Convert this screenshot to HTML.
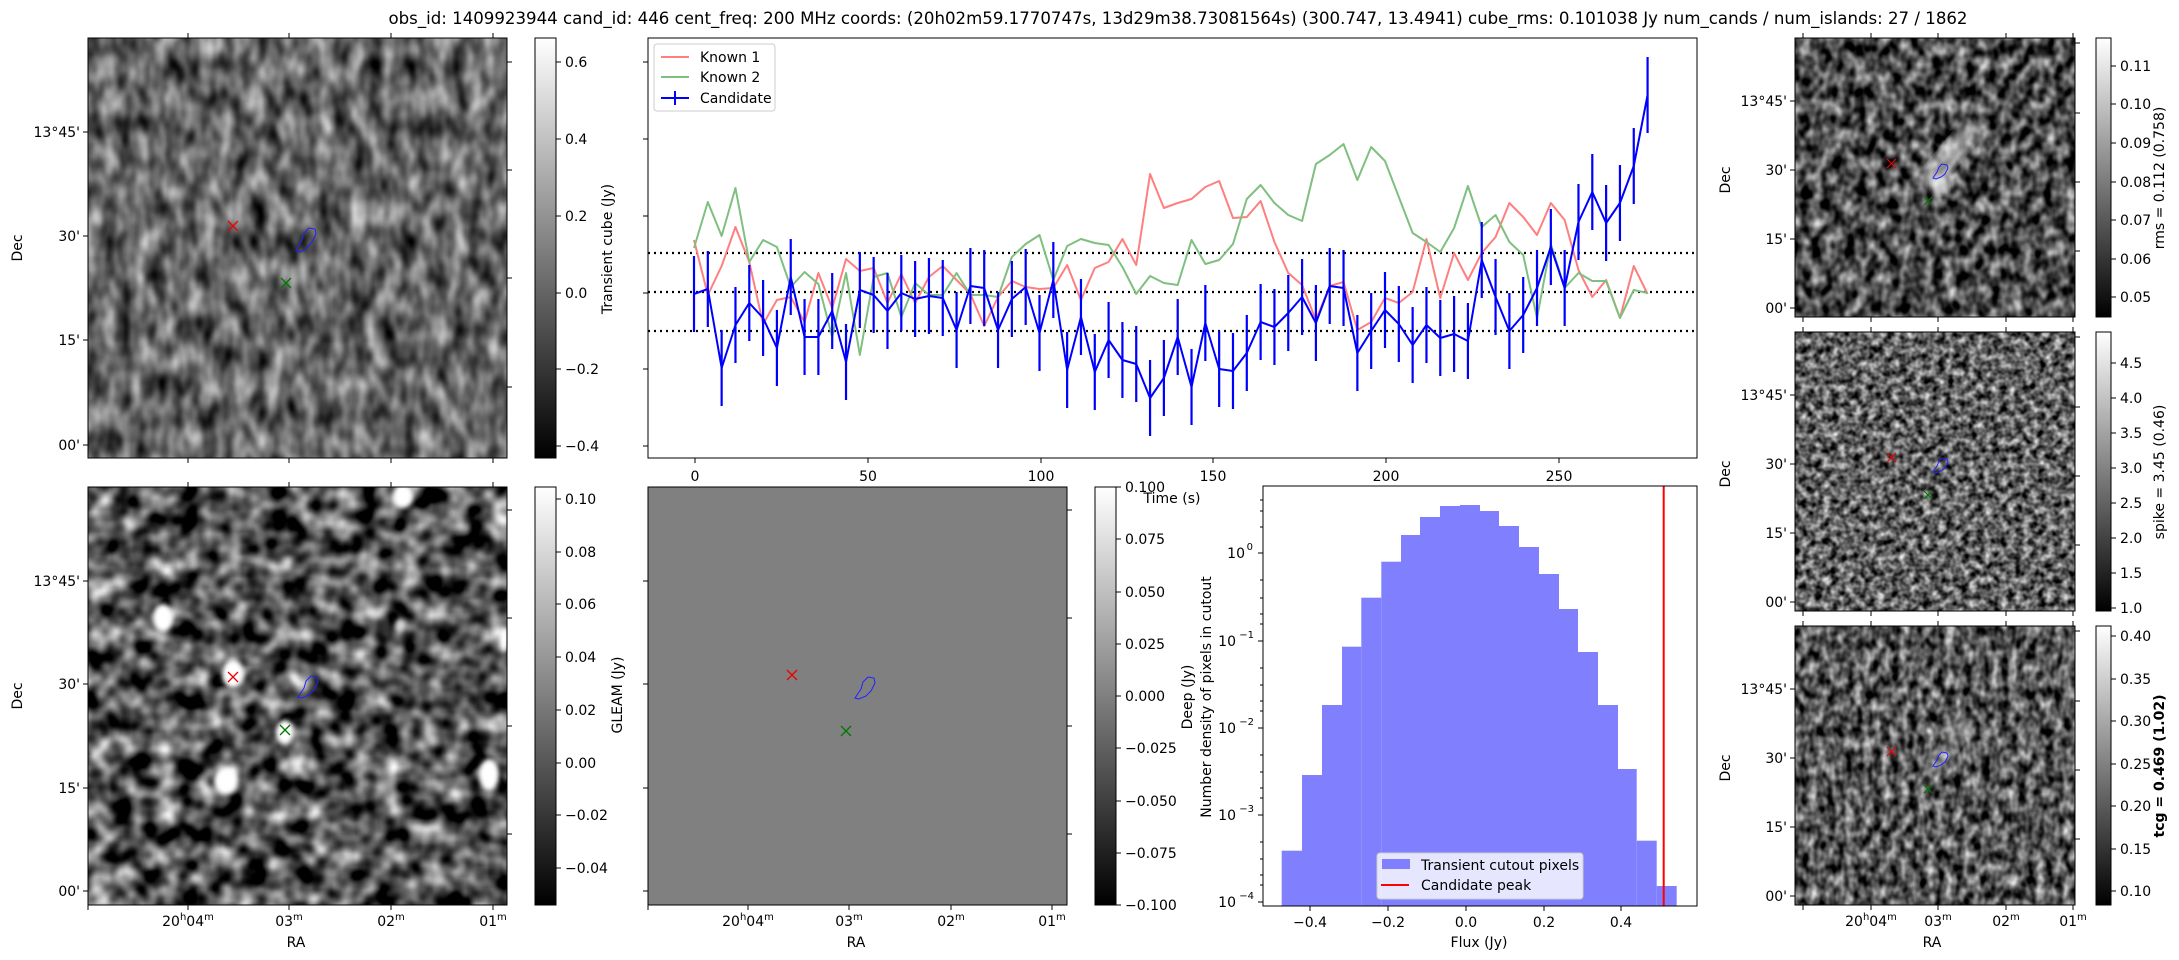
<!DOCTYPE html>
<html><head><meta charset="utf-8"><style>
html,body{margin:0;padding:0;background:#fff;}
svg{display:block;font-family:"DejaVu Sans","Liberation Sans",sans-serif;}
text{fill:#000;}
</style></head><body>
<svg width="2179" height="960" viewBox="0 0 2179 960" xmlns="http://www.w3.org/2000/svg">
<defs>
<linearGradient id="cb" x1="0" y1="1" x2="0" y2="0"><stop offset="0" stop-color="#000"/><stop offset="1" stop-color="#fff"/></linearGradient>
<filter id="ftl" color-interpolation-filters="sRGB" filterUnits="userSpaceOnUse" x="88" y="38" width="419" height="420">
<feTurbulence type="fractalNoise" baseFrequency="0.06 0.035" numOctaves="2" seed="3"/>
<feColorMatrix type="matrix" values="1.1 0 0 0 -0.15  1.1 0 0 0 -0.15  1.1 0 0 0 -0.15  0 0 0 0 1"/></filter>
<filter id="fbl" color-interpolation-filters="sRGB" filterUnits="userSpaceOnUse" x="88" y="487" width="419" height="418">
<feTurbulence type="fractalNoise" baseFrequency="0.045" numOctaves="2" seed="11"/>
<feColorMatrix type="matrix" values="1.7 0 0 0 -0.52  1.7 0 0 0 -0.52  1.7 0 0 0 -0.52  0 0 0 0 1"/></filter>
<filter id="fr1" color-interpolation-filters="sRGB" filterUnits="userSpaceOnUse" x="1795" y="38" width="280" height="279">
<feTurbulence type="fractalNoise" baseFrequency="0.09 0.07" numOctaves="2" seed="5"/>
<feColorMatrix type="matrix" values="1.4 0 0 0 -0.4  1.4 0 0 0 -0.4  1.4 0 0 0 -0.4  0 0 0 0 1"/></filter>
<filter id="fr2" color-interpolation-filters="sRGB" filterUnits="userSpaceOnUse" x="1795" y="332" width="280" height="279">
<feTurbulence type="fractalNoise" baseFrequency="0.13" numOctaves="2" seed="8"/>
<feColorMatrix type="matrix" values="1.4 0 0 0 -0.32  1.4 0 0 0 -0.32  1.4 0 0 0 -0.32  0 0 0 0 1"/></filter>
<filter id="fr3" color-interpolation-filters="sRGB" filterUnits="userSpaceOnUse" x="1795" y="626" width="280" height="279">
<feTurbulence type="fractalNoise" baseFrequency="0.11 0.08" numOctaves="2" seed="13"/>
<feColorMatrix type="matrix" values="1.4 0 0 0 -0.36  1.4 0 0 0 -0.36  1.4 0 0 0 -0.36  0 0 0 0 1"/></filter>
<filter id="blur4"><feGaussianBlur stdDeviation="4"/></filter>
<filter id="blur2"><feGaussianBlur stdDeviation="2.5"/></filter>
<clipPath id="cbl"><rect x="88" y="487" width="419" height="418"/></clipPath>
<clipPath id="cr1"><rect x="1795" y="38" width="280" height="279"/></clipPath>
<clipPath id="cr3"><rect x="1795" y="626" width="280" height="279"/></clipPath>
</defs>

<text x="1178" y="24" font-size="16.7" text-anchor="middle" textLength="1579" lengthAdjust="spacingAndGlyphs">obs_id: 1409923944 cand_id: 446 cent_freq: 200 MHz coords: (20h02m59.1770747s, 13d29m38.73081564s) (300.747, 13.4941) cube_rms: 0.101038 Jy num_cands / num_islands: 27 / 1862</text>

<!-- Top-left image -->
<rect x="88" y="38" width="419" height="420" filter="url(#ftl)"/>
<rect x="88" y="38" width="419" height="420" fill="none" stroke="#000" stroke-width="1"/>
<g stroke="#000" stroke-width="1">
<path d="M88 132h-5M88 236h-5M88 340h-5M88 445h-5"/>
<path d="M507 62h5M507 170h5M507 278h5M507 387h5"/>
<path d="M188 38v-5M289 38v-5M391 38v-5M493 38v-5M188 458v5M289 458v5M391 458v5M493 458v5"/>
</g>
<g font-size="14" text-anchor="end">
<text x="80" y="137">13°45'</text><text x="80" y="241">30'</text><text x="80" y="345">15'</text><text x="80" y="450">00'</text>
</g>
<text transform="translate(22,248) rotate(-90)" font-size="14" text-anchor="middle">Dec</text>
<path d="M228 221l10 10M238 221l-10 10" stroke="#e00" stroke-width="1.3"/>
<path d="M281 278l10 10M291 278l-10 10" stroke="#070" stroke-width="1.3"/>
<path d="M296 250l6-10 2-7 5-5 6 1 1 5-4 8-5 6-7 4z" fill="none" stroke="#22f" stroke-width="1"/>

<rect x="535" y="38" width="21" height="420" fill="url(#cb)" stroke="#000" stroke-width="1"/>
<g stroke="#000"><path d="M556 62h5M556 139h5M556 216h5M556 293h5M556 369h5M556 446h5"/></g>
<g font-size="14"><text x="565" y="67">0.6</text><text x="565" y="144">0.4</text><text x="565" y="221">0.2</text><text x="565" y="298">0.0</text><text x="565" y="374">−0.2</text><text x="565" y="451">−0.4</text></g>
<text transform="translate(612,249) rotate(-90)" font-size="14" text-anchor="middle">Transient cube (Jy)</text>

<!-- Lightcurve -->
<rect x="648" y="38" width="1049" height="420" fill="#fff" stroke="#000" stroke-width="1"/>
<g stroke="#000"><path d="M648 62h-5M648 139h-5M648 216h-5M648 293h-5M648 369h-5M648 446h-5"/>
<path d="M695 458v5M868 458v5M1041 458v5M1213 458v5M1386 458v5M1559 458v5"/></g>
<g font-size="14" text-anchor="middle"><text x="695" y="481">0</text><text x="868" y="481">50</text><text x="1041" y="481">100</text><text x="1213" y="481">150</text><text x="1386" y="481">200</text><text x="1559" y="481">250</text></g>
<text x="1172" y="503" font-size="14" text-anchor="middle">Time (s)</text>
<g stroke="#000" stroke-width="2.2" stroke-dasharray="2,4"><path d="M648 253H1697M648 292H1697M648 331H1697"/></g>
<g transform="translate(694,0) scale(13.82,1)" fill="none">
<polyline vector-effect="non-scaling-stroke" stroke="#ff7f7f" stroke-width="2" stroke-linejoin="round" points="0,240 1,295 2,266 3,227 4,262 5,324 6,300 7,297 8,322 9,273 10,308 11,259 12,271 13,268 14,303 15,274 16,303 17,277 18,266 19,280 20,294 21,326 22,297 23,281 24,287 25,289 26,288 27,265 28,300 29,268 30,262 31,239 32,265 33,174 34,208 35,203 36,199 37,187 38,181 39,218 40,217 41,201 42,242 43,273 44,285 45,320 46,286 47,282 48,330 49,322 50,298 51,303 52,292 53,239 54,298 55,253 56,280 57,253 58,237 59,203 60,217 61,235 62,203 63,220 64,270 65,297 66,280 67,318 68,266 69,294"/>
<polyline vector-effect="non-scaling-stroke" stroke="#7fbf7f" stroke-width="2" stroke-linejoin="round" points="0,248 1,202 2,236 3,188 4,262 5,240 6,247 7,287 8,272 9,284 10,337 11,273 12,355 13,277 14,273 15,317 16,283 17,295 18,295 19,273 20,295 21,295 22,297 23,257 24,244 25,235 26,280 27,246 28,239 29,243 30,245 31,267 32,294 33,276 34,283 35,285 36,240 37,264 38,260 39,244 40,199 41,185 42,203 43,215 44,221 45,164 46,155 47,144 48,180 49,147 50,161 51,197 52,233 53,242 54,252 55,228 56,186 57,227 58,215 59,242 60,255 61,318 62,244 63,288 64,273 65,281 66,281 67,318 68,290 69,293"/>
<path vector-effect="non-scaling-stroke" stroke="#0000ff" stroke-width="2.2" d="M0 256V332M1 251V327M2 330V406M3 287V363M4 265V341M5 280V356M6 310V386M7 239V315M8 299V375M9 299V375M10 273V349M11 324V400M12 252V328M13 257V333M14 273V349M15 255V331M16 261V337M17 258V334M18 260V336M19 292V368M20 248V324M21 250V326M22 292V368M23 261V337M24 249V325M25 295V371M26 242V318M27 332V408M28 279V355M29 334V410M30 302V378M31 322V398M32 326V402M33 360V436M34 340V416M35 299V375M36 349V425M37 285V361M38 331V407M39 333V409M40 315V391M41 284V360M42 289V365M43 275V351M44 259V335M45 285V361M46 248V324M47 250V326M48 315V391M49 293V369M50 272V348M51 286V362M52 307V383M53 287V363M54 300V376M55 296V372M56 303V379M57 222V298M58 259V335M59 293V369M60 277V353M61 250V326M62 209V285M63 250V326M64 184V260M65 154V230M66 185V261M67 165V241M68 128V204M69 57V133"/>
<polyline vector-effect="non-scaling-stroke" stroke="#0000ff" stroke-width="2" stroke-linejoin="round" points="0,294 1,289 2,368 3,325 4,303 5,318 6,348 7,277 8,337 9,337 10,311 11,362 12,290 13,295 14,311 15,293 16,299 17,296 18,298 19,330 20,286 21,288 22,330 23,299 24,287 25,333 26,280 27,370 28,317 29,372 30,340 31,360 32,364 33,398 34,378 35,337 36,387 37,323 38,369 39,371 40,353 41,322 42,327 43,313 44,297 45,323 46,286 47,288 48,353 49,331 50,310 51,324 52,345 53,325 54,338 55,334 56,341 57,260 58,297 59,331 60,315 61,288 62,247 63,288 64,222 65,192 66,223 67,203 68,166 69,95"/>
</g>
<rect x="654" y="44" width="121" height="67" rx="3" fill="#fff" fill-opacity="0.8" stroke="#ccc" stroke-width="1"/>
<path d="M661 57h28" stroke="#ff7f7f" stroke-width="2"/>
<path d="M661 77h28" stroke="#7fbf7f" stroke-width="2"/>
<path d="M661 98h28M675 91v14" stroke="#0000ff" stroke-width="2"/>
<g font-size="14"><text x="700" y="62">Known 1</text><text x="700" y="82">Known 2</text><text x="700" y="103">Candidate</text></g>

<!-- Bottom-left image -->
<rect x="88" y="487" width="419" height="418" filter="url(#fbl)"/>
<g clip-path="url(#cbl)" fill="#fff" filter="url(#blur2)">
<ellipse cx="163" cy="618" rx="10" ry="14"/><ellipse cx="233" cy="674" rx="11" ry="14"/><ellipse cx="285" cy="732" rx="9" ry="12"/>
<ellipse cx="403" cy="496" rx="10" ry="12"/><ellipse cx="489" cy="775" rx="10" ry="16"/><ellipse cx="226" cy="781" rx="12" ry="14"/>
<ellipse cx="400" cy="626" rx="5" ry="7" opacity="0.7"/><ellipse cx="504" cy="640" rx="5" ry="12"/>
</g>
<rect x="88" y="487" width="419" height="418" fill="none" stroke="#000" stroke-width="1"/>
<g stroke="#000"><path d="M88 581h-5M88 684h-5M88 788h-5M88 891h-5M507 510h5M507 618h5M507 726h5M507 834h5"/>
<path d="M188 905v5M289 905v5M391 905v5M493 905v5M88 905v5M188 487v-5M289 487v-5M391 487v-5M493 487v-5"/></g>
<g font-size="14" text-anchor="end"><text x="80" y="586">13°45'</text><text x="80" y="689">30'</text><text x="80" y="793">15'</text><text x="80" y="896">00'</text></g>
<text transform="translate(22,696) rotate(-90)" font-size="14" text-anchor="middle">Dec</text>
<path d="M228 672l10 10M238 672l-10 10" stroke="#e00" stroke-width="1.3"/>
<path d="M280 725l10 10M290 725l-10 10" stroke="#070" stroke-width="1.3"/>
<path d="M298 697l6-9 2-7 5-5 6 1 1 5-4 8-5 5-7 3z" fill="none" stroke="#22f" stroke-width="1"/>
<g font-size="14" text-anchor="middle">
<text x="188" y="926">20<tspan font-size="10" dy="-6">h</tspan><tspan dy="6">04</tspan><tspan font-size="10" dy="-6">m</tspan></text>
<text x="289" y="926">03<tspan font-size="10" dy="-6">m</tspan></text>
<text x="391" y="926">02<tspan font-size="10" dy="-6">m</tspan></text>
<text x="493" y="926">01<tspan font-size="10" dy="-6">m</tspan></text>
<text x="296" y="947">RA</text></g>

<rect x="535" y="487" width="21" height="418" fill="url(#cb)" stroke="#000" stroke-width="1"/>
<g stroke="#000"><path d="M556 499h5M556 552h5M556 604h5M556 657h5M556 710h5M556 763h5M556 815h5M556 868h5"/></g>
<g font-size="14"><text x="565" y="504">0.10</text><text x="565" y="557">0.08</text><text x="565" y="609">0.06</text><text x="565" y="662">0.04</text><text x="565" y="715">0.02</text><text x="565" y="768">0.00</text><text x="565" y="820">−0.02</text><text x="565" y="873">−0.04</text></g>
<text transform="translate(622,695) rotate(-90)" font-size="14" text-anchor="middle">GLEAM (Jy)</text>

<!-- GLEAM panel -->
<rect x="648" y="487" width="419" height="418" fill="#808080" stroke="#000" stroke-width="1"/>
<g stroke="#000"><path d="M748 905v5M849 905v5M951 905v5M1052 905v5M648 905v5M648 581h-5M648 684h-5M648 788h-5M648 891h-5M1067 510h5M1067 618h5M1067 726h5M1067 834h5"/></g>
<path d="M787 670l10 10M797 670l-10 10" stroke="#e00" stroke-width="1.3"/>
<path d="M841 726l10 10M851 726l-10 10" stroke="#070" stroke-width="1.3"/>
<path d="M855 698l6-9 2-7 5-5 6 1 1 5-4 8-5 5-7 3z" fill="none" stroke="#22f" stroke-width="1"/>
<g font-size="14" text-anchor="middle">
<text x="748" y="926">20<tspan font-size="10" dy="-6">h</tspan><tspan dy="6">04</tspan><tspan font-size="10" dy="-6">m</tspan></text>
<text x="849" y="926">03<tspan font-size="10" dy="-6">m</tspan></text>
<text x="951" y="926">02<tspan font-size="10" dy="-6">m</tspan></text>
<text x="1052" y="926">01<tspan font-size="10" dy="-6">m</tspan></text>
<text x="856" y="947">RA</text></g>

<rect x="1095" y="487" width="21" height="418" fill="url(#cb)" stroke="#000" stroke-width="1"/>
<g stroke="#000"><path d="M1116 487h5M1116 539h5M1116 592h5M1116 644h5M1116 696h5M1116 748h5M1116 801h5M1116 853h5M1116 905h5"/></g>
<g font-size="14"><text x="1125" y="492">0.100</text><text x="1125" y="544">0.075</text><text x="1125" y="597">0.050</text><text x="1125" y="649">0.025</text><text x="1125" y="701">0.000</text><text x="1125" y="753">−0.025</text><text x="1125" y="806">−0.050</text><text x="1125" y="858">−0.075</text><text x="1125" y="910">−0.100</text></g>
<text transform="translate(1192,697) rotate(-90)" font-size="14" text-anchor="middle">Deep (Jy)</text>
<text transform="translate(1211,697) rotate(-90)" font-size="14" text-anchor="middle">Number density of pixels in cutout</text>

<!-- Histogram -->
<rect x="1263" y="486" width="434" height="420" fill="#fff"/>
<g fill="#8080ff">
<rect x="1281.7" y="850.7" width="20.3" height="55.3"/><rect x="1302" y="775" width="20" height="131"/><rect x="1322" y="705" width="20" height="201"/><rect x="1342" y="646.7" width="19.3" height="259.3"/><rect x="1361.3" y="597.7" width="20" height="308.3"/><rect x="1381.3" y="561.7" width="19.7" height="344.3"/><rect x="1401" y="535" width="19" height="371"/><rect x="1420" y="517" width="20" height="389"/><rect x="1440" y="506" width="20" height="400"/><rect x="1460" y="505" width="20" height="401"/><rect x="1480" y="511" width="19" height="395"/><rect x="1499" y="526" width="20" height="380"/><rect x="1519" y="547" width="20" height="359"/><rect x="1539" y="574" width="20" height="332"/><rect x="1559" y="609" width="19" height="297"/><rect x="1578" y="652" width="20" height="254"/><rect x="1598" y="705" width="20" height="201"/><rect x="1618" y="769" width="18.7" height="137"/><rect x="1636.7" y="840.7" width="20" height="65.3"/><rect x="1656.7" y="886" width="20" height="20"/>
</g>
<path d="M1663.7 486V906" stroke="#f00" stroke-width="2"/>
<rect x="1263" y="486" width="434" height="420" fill="none" stroke="#000" stroke-width="1"/>
<g stroke="#000"><path d="M1310 906v5M1388 906v5M1466 906v5M1544 906v5M1621 906v5"/>
<path d="M1263 553h-5M1263 641h-5M1263 728h-5M1263 815h-5M1263 902h-5"/>
<path d="M1263 500h-3M1263 511h-3M1263 527h-3M1263 580h-3M1263 598h-3M1263 614h-3M1263 624h-3M1263 668h-3M1263 685h-3M1263 701h-3M1263 711h-3M1263 755h-3M1263 772h-3M1263 788h-3M1263 798h-3M1263 842h-3M1263 859h-3M1263 875h-3M1263 885h-3"/></g>
<g font-size="14" text-anchor="middle"><text x="1310" y="927">−0.4</text><text x="1388" y="927">−0.2</text><text x="1466" y="927">0.0</text><text x="1544" y="927">0.2</text><text x="1621" y="927">0.4</text><text x="1479" y="947">Flux (Jy)</text></g>
<g font-size="14" text-anchor="end">
<text x="1245" y="558">10</text><text x="1253" y="550" font-size="10">0</text>
<text x="1236" y="646">10</text><text x="1254" y="638" font-size="10">−1</text>
<text x="1236" y="733">10</text><text x="1254" y="725" font-size="10">−2</text>
<text x="1236" y="820">10</text><text x="1254" y="812" font-size="10">−3</text>
<text x="1236" y="907">10</text><text x="1254" y="899" font-size="10">−4</text></g>
<rect x="1377" y="853" width="206" height="46" rx="3" fill="#fff" fill-opacity="0.8" stroke="#ccc"/>
<rect x="1382" y="859" width="28" height="10" fill="#8080ff"/>
<path d="M1381 885h28" stroke="#f00" stroke-width="2"/>
<g font-size="14"><text x="1421" y="870">Transient cutout pixels</text><text x="1421" y="890">Candidate peak</text></g>

<!-- Right panels -->
<rect x="1795" y="38" width="280" height="279" filter="url(#fr1)"/>
<g clip-path="url(#cr1)"><ellipse cx="1950" cy="155" rx="11" ry="45" transform="rotate(40 1950 155)" fill="#fff" opacity="0.55" filter="url(#blur4)"/>
<ellipse cx="1940" cy="185" rx="9" ry="10" fill="#fff" opacity="0.7" filter="url(#blur2)"/></g>
<rect x="1795" y="332" width="280" height="279" filter="url(#fr2)"/>
<rect x="1795" y="626" width="280" height="279" filter="url(#fr3)"/>
<g clip-path="url(#cr3)"><ellipse cx="1948" cy="748" rx="9" ry="40" transform="rotate(35 1948 748)" fill="#fff" opacity="0.3" filter="url(#blur4)"/></g>
<g fill="none" stroke="#000" stroke-width="1"><rect x="1795" y="38" width="280" height="279"/><rect x="1795" y="332" width="280" height="279"/><rect x="1795" y="626" width="280" height="279"/></g>
<g stroke="#000">
<path d="M1803 38v-5M1871 38v-5M1938 38v-5M2006 38v-5M2073 38v-5M1803 317v5M1871 317v5M1938 317v5M2006 317v5M2073 317v5M2075 43h5M2075 113h5M2075 182h5M2075 251h5M1795 101h-5M1795 170h-5M1795 239h-5M1795 308h-5"/>
<path d="M1803 332v-5M1871 332v-5M1938 332v-5M2006 332v-5M2073 332v-5M1803 611v5M1871 611v5M1938 611v5M2006 611v5M2073 611v5M2075 337h5M2075 407h5M2075 476h5M2075 545h5M1795 395h-5M1795 464h-5M1795 533h-5M1795 602h-5"/>
<path d="M1803 626v-5M1871 626v-5M1938 626v-5M2006 626v-5M2073 626v-5M1803 905v5M1871 905v5M1938 905v5M2006 905v5M2073 905v5M2075 631h5M2075 701h5M2075 770h5M2075 839h5M1795 689h-5M1795 758h-5M1795 827h-5M1795 896h-5"/>
</g>
<g font-size="14" text-anchor="end">
<text x="1787" y="106">13°45'</text><text x="1787" y="175">30'</text><text x="1787" y="244">15'</text><text x="1787" y="313">00'</text>
<text x="1787" y="400">13°45'</text><text x="1787" y="469">30'</text><text x="1787" y="538">15'</text><text x="1787" y="607">00'</text>
<text x="1787" y="694">13°45'</text><text x="1787" y="763">30'</text><text x="1787" y="832">15'</text><text x="1787" y="901">00'</text></g>
<g font-size="14" text-anchor="middle">
<text transform="translate(1730,180) rotate(-90)">Dec</text><text transform="translate(1730,474) rotate(-90)">Dec</text><text transform="translate(1730,768) rotate(-90)">Dec</text>
<text x="1871" y="926">20<tspan font-size="10" dy="-6">h</tspan><tspan dy="6">04</tspan><tspan font-size="10" dy="-6">m</tspan></text>
<text x="1938" y="926">03<tspan font-size="10" dy="-6">m</tspan></text>
<text x="2006" y="926">02<tspan font-size="10" dy="-6">m</tspan></text>
<text x="2073" y="926">01<tspan font-size="10" dy="-6">m</tspan></text>
<text x="1932" y="947">RA</text></g>
<g stroke-width="1.2">
<path d="M1887 159l9 9M1896 159l-9 9M1887 453l9 9M1896 453l-9 9M1887 747l9 9M1896 747l-9 9" stroke="#e00"/>
<path d="M1924 197l8 8M1932 197l-8 8M1924 491l8 8M1932 491l-8 8M1924 785l8 8M1932 785l-8 8" stroke="#070"/>
</g>
<g fill="none" stroke="#22f" stroke-width="1">
<path d="M1933 178l4-6 2-5 3-3 5 1 1 3-3 6-4 3-5 2z"/>
<path d="M1933 472l4-6 2-5 3-3 5 1 1 3-3 6-4 3-5 2z"/>
<path d="M1933 766l4-6 2-5 3-3 5 1 1 3-3 6-4 3-5 2z"/>
</g>
<rect x="2096" y="38" width="15" height="279" fill="url(#cb)" stroke="#000"/>
<rect x="2096" y="332" width="15" height="279" fill="url(#cb)" stroke="#000"/>
<rect x="2096" y="626" width="15" height="279" fill="url(#cb)" stroke="#000"/>
<g stroke="#000"><path d="M2111 66h5M2111 104h5M2111 143h5M2111 182h5M2111 220h5M2111 259h5M2111 297h5"/>
<path d="M2111 363h5M2111 398h5M2111 433h5M2111 468h5M2111 503h5M2111 538h5M2111 573h5M2111 608h5"/>
<path d="M2111 636h5M2111 679h5M2111 721h5M2111 764h5M2111 806h5M2111 849h5M2111 891h5"/></g>
<g font-size="14">
<text x="2120" y="71">0.11</text><text x="2120" y="109">0.10</text><text x="2120" y="148">0.09</text><text x="2120" y="187">0.08</text><text x="2120" y="225">0.07</text><text x="2120" y="264">0.06</text><text x="2120" y="302">0.05</text>
<text x="2120" y="368">4.5</text><text x="2120" y="403">4.0</text><text x="2120" y="438">3.5</text><text x="2120" y="473">3.0</text><text x="2120" y="508">2.5</text><text x="2120" y="543">2.0</text><text x="2120" y="578">1.5</text><text x="2120" y="613">1.0</text>
<text x="2120" y="641">0.40</text><text x="2120" y="684">0.35</text><text x="2120" y="726">0.30</text><text x="2120" y="769">0.25</text><text x="2120" y="811">0.20</text><text x="2120" y="854">0.15</text><text x="2120" y="896">0.10</text></g>
<g font-size="14" text-anchor="middle">
<text transform="translate(2164,178) rotate(-90)">rms = 0.112 (0.758)</text>
<text transform="translate(2164,472) rotate(-90)">spike = 3.45 (0.46)</text>
<text transform="translate(2164,766) rotate(-90)" font-weight="bold">tcg = 0.469 (1.02)</text></g>
</svg>
</body></html>
